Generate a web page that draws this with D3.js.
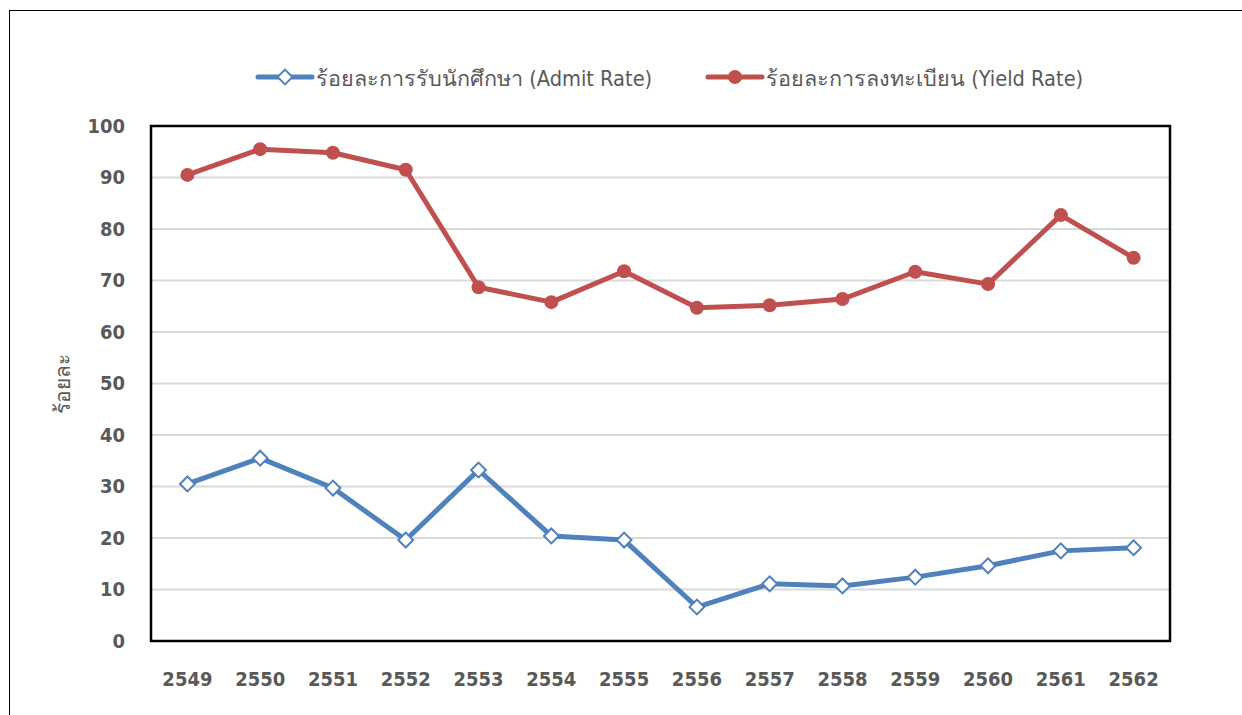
<!DOCTYPE html>
<html>
<head>
<meta charset="utf-8">
<script src="https://cdn.jsdelivr.net/npm/d3@7/dist/d3.min.js"></script>
<style>
  html, body { margin: 0; padding: 0; background: #fff; }
  svg { display: block; }
</style>
</head>
<body>
<svg id="chart" width="1242" height="715"></svg>
<script>
const years = ["2549","2550","2551","2552","2553","2554","2555","2556","2557","2558","2559","2560","2561","2562"];
const admitRate = [30.5, 35.5, 29.7, 19.6, 33.2, 20.4, 19.6, 6.6, 11.1, 10.7, 12.4, 14.6, 17.5, 18.1];
const yieldRate = [90.5, 95.5, 94.8, 91.5, 68.7, 65.8, 71.8, 64.7, 65.2, 66.4, 71.7, 69.3, 82.7, 74.4];
const yTicks = [0, 10, 20, 30, 40, 50, 60, 70, 80, 90, 100];
const seriesNames = ["ร้อยละการรับนักศึกษา (Admit Rate)", "ร้อยละการลงทะเบียน (Yield Rate)"];
const yTitle = "ร้อยละ";

const svg = d3.select("#chart");
const font = "Tahoma, 'DejaVu Sans Condensed', 'DejaVu Sans', 'Noto Sans', sans-serif";
const textColor = "#595959";

// outer frame
svg.append("rect").attr("x", 9.5).attr("y", 10.5).attr("width", 1300).attr("height", 800)
  .attr("fill", "none").attr("stroke", "#000").attr("stroke-width", 1);

const L = 151, R = 1170, T = 126, B = 641;
const x = d3.scaleBand().domain(years).range([L, R]);
const y = d3.scaleLinear().domain([0, 100]).range([B, T]);

// gridlines
svg.append("g").selectAll("line").data(yTicks.filter(d => d > 0 && d < 100)).join("line")
  .attr("x1", L).attr("x2", R).attr("y1", d => y(d)).attr("y2", d => y(d))
  .attr("stroke", "#d9d9d9").attr("stroke-width", 2);

// y axis labels
const yAxis = d3.axisLeft(y).tickValues(yTicks).tickSize(0).tickPadding(26);
const gy = svg.append("g").attr("transform", `translate(${L},0)`).call(yAxis);
gy.select(".domain").remove();
gy.selectAll("text").attr("font-family", font).attr("font-size", 20).attr("font-weight", "bold").attr("fill", textColor);

// x axis labels
const xAxis = d3.axisBottom(x).tickSize(0).tickPadding(31);
const gx = svg.append("g").attr("transform", `translate(0,${B})`).call(xAxis);
gx.select(".domain").remove();
gx.selectAll("text").attr("font-family", font).attr("font-size", 20).attr("font-weight", "bold").attr("fill", textColor);

// plot border
svg.append("rect").attr("x", L).attr("y", T).attr("width", R - L).attr("height", B - T)
  .attr("fill", "none").attr("stroke", "#000").attr("stroke-width", 2.5);

// y title
svg.append("text").attr("transform", `translate(63,${(T + B) / 2}) rotate(-90)`)
  .attr("text-anchor", "middle").attr("dy", "0.35em").attr("font-family", font).attr("font-size", 21)
  .attr("fill", textColor).text(yTitle);

const blue = "#4f81bd", red = "#c0504d";
const cx = d => x(d) + x.bandwidth() / 2;
const line = d3.line().x((d, i) => cx(years[i])).y(d => y(d));

// yield line
svg.append("path").datum(yieldRate).attr("d", line).attr("fill", "none")
  .attr("stroke", red).attr("stroke-width", 5).attr("stroke-linejoin", "round");
svg.append("g").selectAll("circle").data(yieldRate).join("circle")
  .attr("cx", (d, i) => cx(years[i])).attr("cy", d => y(d)).attr("r", 7).attr("fill", red);

// admit line
svg.append("path").datum(admitRate).attr("d", line).attr("fill", "none")
  .attr("stroke", blue).attr("stroke-width", 5).attr("stroke-linejoin", "round");
svg.append("g").selectAll("path").data(admitRate).join("path")
  .attr("transform", (d, i) => `translate(${cx(years[i])},${y(d)}) rotate(45)`)
  .attr("d", d3.symbol().type(d3.symbolSquare).size(110))
  .attr("fill", "#fff").attr("stroke", blue).attr("stroke-width", 2);

// legend
const leg = svg.append("g");
const items = [
  { x: 258, color: blue, marker: "diamond", name: seriesNames[0] },
  { x: 708, color: red, marker: "circle", name: seriesNames[1] }
];
items.forEach(it => {
  const ly = 77;
  leg.append("line").attr("x1", it.x).attr("x2", it.x + 54).attr("y1", ly).attr("y2", ly)
    .attr("stroke", it.color).attr("stroke-width", 5).attr("stroke-linecap", "round");
  if (it.marker === "diamond") {
    leg.append("path").attr("transform", `translate(${it.x + 27},${ly}) rotate(45)`)
      .attr("d", d3.symbol().type(d3.symbolSquare).size(110))
      .attr("fill", "#fff").attr("stroke", it.color).attr("stroke-width", 2);
  } else {
    leg.append("circle").attr("cx", it.x + 27).attr("cy", ly).attr("r", 7).attr("fill", it.color);
  }
  leg.append("text").attr("x", it.x + 58).attr("y", ly + 1).attr("dy", "0.35em")
    .attr("font-family", font).attr("font-size", 21.6).attr("fill", textColor).text(it.name);
});
</script>
</body>
</html>
